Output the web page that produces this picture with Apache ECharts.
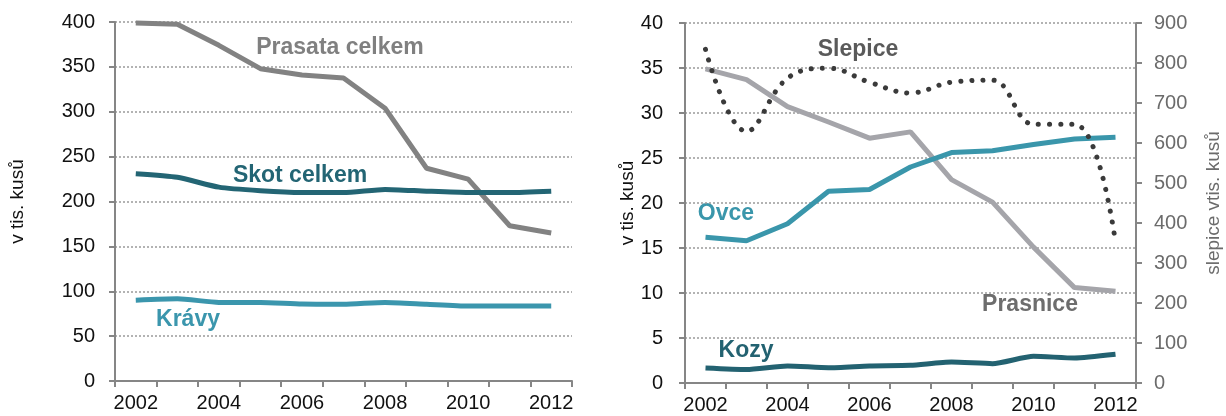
<!DOCTYPE html>
<html>
<head>
<meta charset="utf-8">
<script src="https://cdn.jsdelivr.net/npm/echarts@6/dist/echarts.min.js"></script>
<style>
    html, body { margin: 0; padding: 0; background: #fff; }
    #main { width: 1226px; height: 416px; }
</style>
</head>
<body>
<div id="main"></div>
<script>
// roky na ose x
let years = ['2002', '2003', '2004', '2005', '2006', '2007', '2008', '2009', '2010', '2011', '2012'];

// levý graf (tis. kusů)
let prasataCelkem = [399, 397.5, 374, 348, 341, 337.5, 304, 237, 225, 173, 165];
let skotCelkem = [231, 227, 216, 212, 210, 210, 213.5, 211.5, 210, 210, 211.5];
let kravy = [90, 91.6, 87.6, 87.5, 85.7, 85.5, 87.6, 85.5, 83.5, 83.5, 83.5];

// pravý graf (tis. kusů)
let prasnice = [34.9, 33.7, 30.7, 29.0, 27.2, 27.9, 22.6, 20.1, 15.1, 10.6, 10.2];
let ovce = [16.2, 15.8, 17.7, 21.3, 21.5, 24.0, 25.6, 25.8, 26.5, 27.1, 27.3];
let kozy = [1.67, 1.5, 1.9, 1.7, 1.9, 1.97, 2.33, 2.15, 2.97, 2.78, 3.19];
// slepice na pravé ose
let slepice = [834, 629, 762, 787, 752, 725, 752, 757, 647, 647, 352];

let axisGray = '#868686';
let font = 'Liberation Sans, Arial, sans-serif';

function xAxisCfg(gridIndex) {
    return {
        type: 'category',
        gridIndex: gridIndex,
        data: years,
        boundaryGap: true,
        axisLine: { lineStyle: { color: axisGray, width: 2 } },
        axisTick: { show: true, interval: 0, length: 6, lineStyle: { color: axisGray, width: 2 } },
        axisLabel: { interval: 1, margin: 12, color: '#111', fontSize: 20, fontFamily: font }
    };
}

let gridLine = { show: true, lineStyle: { color: '#9a9a9a', width: 1.5, type: [2, 2] } };

let myChart = echarts.init(document.getElementById('main'));
let option = {
    backgroundColor: '#fff',
    animation: false,
    grid: [
        { left: 115, top: 22, width: 457, height: 359 },
        { left: 685, top: 23, width: 451, height: 360 }
    ],
    xAxis: [xAxisCfg(0), xAxisCfg(1)],
    yAxis: [
        {
            type: 'value', gridIndex: 0, min: 0, max: 400, interval: 50,
            name: 'v tis. kusů', nameLocation: 'middle', nameGap: 88, nameRotate: 90,
            nameTextStyle: { color: '#111', fontSize: 19, fontFamily: font },
            axisLine: { show: true, lineStyle: { color: axisGray, width: 2 } },
            axisTick: { show: true, length: 6, lineStyle: { color: axisGray, width: 2 } },
            axisLabel: { margin: 20, color: '#111', fontSize: 20, fontFamily: font },
            splitLine: gridLine
        },
        {
            type: 'value', gridIndex: 1, min: 0, max: 40, interval: 5,
            name: 'v tis. kusů', nameLocation: 'middle', nameGap: 48, nameRotate: 90,
            nameTextStyle: { color: '#111', fontSize: 19, fontFamily: font },
            axisLine: { show: true, lineStyle: { color: axisGray, width: 2 } },
            axisTick: { show: true, length: 6, lineStyle: { color: axisGray, width: 2 } },
            axisLabel: { margin: 22, color: '#111', fontSize: 20, fontFamily: font },
            splitLine: gridLine
        },
        {
            type: 'value', gridIndex: 1, position: 'right', min: 0, max: 900, interval: 100,
            name: 'slepice vtis. kusů', nameLocation: 'middle', nameGap: 68, nameRotate: 90,
            nameTextStyle: { color: '#6b6b6b', fontSize: 19, fontFamily: font },
            axisLine: { show: true, lineStyle: { color: axisGray, width: 2 } },
            axisTick: { show: true, length: 6, lineStyle: { color: axisGray, width: 2 } },
            axisLabel: { margin: 18, color: '#6b6b6b', fontSize: 20, fontFamily: font },
            splitLine: { show: false }
        }
    ],
    series: [
        {
            name: 'Prasata celkem', type: 'line', xAxisIndex: 0, yAxisIndex: 0,
            data: prasataCelkem, symbol: 'none',
            lineStyle: { color: '#828282', width: 5 }
        },
        {
            name: 'Skot celkem', type: 'line', xAxisIndex: 0, yAxisIndex: 0,
            data: skotCelkem, symbol: 'none', smooth: 0.2,
            lineStyle: { color: '#236574', width: 5 }
        },
        {
            name: 'Krávy', type: 'line', xAxisIndex: 0, yAxisIndex: 0,
            data: kravy, symbol: 'none', smooth: 0.2,
            lineStyle: { color: '#3b96ad', width: 5 }
        },
        {
            name: 'Prasnice', type: 'line', xAxisIndex: 1, yAxisIndex: 1,
            data: prasnice, symbol: 'none',
            lineStyle: { color: '#a5a5aa', width: 5 }
        },
        {
            name: 'Ovce', type: 'line', xAxisIndex: 1, yAxisIndex: 1,
            data: ovce, symbol: 'none',
            lineStyle: { color: '#3a96ab', width: 5 }
        },
        {
            name: 'Kozy', type: 'line', xAxisIndex: 1, yAxisIndex: 1,
            data: kozy, symbol: 'none', smooth: 0.2,
            lineStyle: { color: '#236271', width: 5 }
        },
        {
            name: 'Slepice', type: 'line', xAxisIndex: 1, yAxisIndex: 2,
            data: slepice, symbol: 'none', smooth: 0.4,
            lineStyle: { color: '#3a3a3a', width: 5, type: [0.1, 11], cap: 'round' }
        }
    ],
    // popisky řad
    graphic: [
        { type: 'text', x: 340, y: 48, style: { text: 'Prasata celkem', fill: '#808080', font: 'bold 23px ' + font, align: 'center', verticalAlign: 'middle' } },
        { type: 'text', x: 300, y: 176, style: { text: 'Skot celkem', fill: '#236574', font: 'bold 23px ' + font, align: 'center', verticalAlign: 'middle' } },
        { type: 'text', x: 188, y: 320, style: { text: 'Krávy', fill: '#3b96ad', font: 'bold 23px ' + font, align: 'center', verticalAlign: 'middle' } },
        { type: 'text', x: 858, y: 50, style: { text: 'Slepice', fill: '#5a5a5a', font: 'bold 23px ' + font, align: 'center', verticalAlign: 'middle' } },
        { type: 'text', x: 726, y: 214, style: { text: 'Ovce', fill: '#3a96ab', font: 'bold 23px ' + font, align: 'center', verticalAlign: 'middle' } },
        { type: 'text', x: 746, y: 351, style: { text: 'Kozy', fill: '#236271', font: 'bold 23px ' + font, align: 'center', verticalAlign: 'middle' } },
        { type: 'text', x: 1030, y: 305, style: { text: 'Prasnice', fill: '#6d6d6d', font: 'bold 23px ' + font, align: 'center', verticalAlign: 'middle' } }
    ]
};
myChart.setOption(option);
</script>
</body>
</html>
